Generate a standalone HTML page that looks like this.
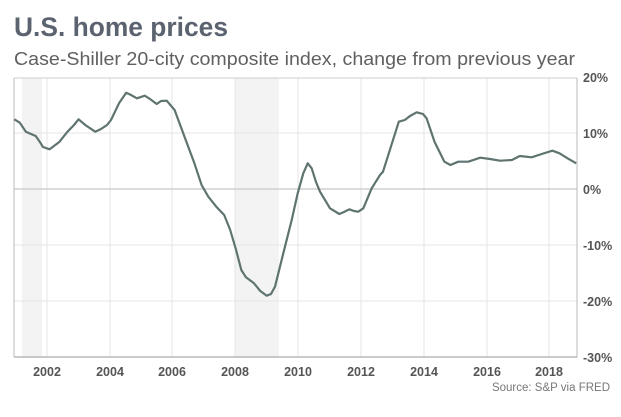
<!DOCTYPE html>
<html><head><meta charset="utf-8"><style>
body{margin:0;background:#fff;width:621px;height:412px;overflow:hidden;font-family:"Liberation Sans",sans-serif}
</style></head><body>
<svg width="621" height="412" xmlns="http://www.w3.org/2000/svg">
<text x="14" y="36" font-size="27" font-weight="bold" fill="#5c6370" textLength="214" lengthAdjust="spacingAndGlyphs">U.S. home prices</text>
<text x="14" y="65" font-size="18" fill="#606060" textLength="561" lengthAdjust="spacingAndGlyphs">Case-Shiller 20-city composite index, change from previous year</text>
<rect x="22" y="78" width="20" height="279" fill="#f3f3f3"/>
<rect x="235" y="78" width="44" height="279" fill="#f3f3f3"/>
<g stroke="#e6e6e6" stroke-width="1">
<line x1="47" y1="78" x2="47" y2="357"/><line x1="110" y1="78" x2="110" y2="357"/><line x1="172" y1="78" x2="172" y2="357"/><line x1="235" y1="78" x2="235" y2="357"/><line x1="298" y1="78" x2="298" y2="357"/><line x1="361" y1="78" x2="361" y2="357"/><line x1="424" y1="78" x2="424" y2="357"/><line x1="487" y1="78" x2="487" y2="357"/><line x1="549" y1="78" x2="549" y2="357"/>
<line x1="14" y1="133" x2="577" y2="133"/><line x1="14" y1="245" x2="577" y2="245"/><line x1="14" y1="301" x2="577" y2="301"/>
</g>
<line x1="14" y1="78" x2="577" y2="78" stroke="#ccc"/>
<line x1="14" y1="189" x2="577" y2="189" stroke="#d0d0d0" stroke-width="1.5"/>
<line x1="14" y1="78" x2="14" y2="357" stroke="#bbb"/>
<line x1="577" y1="78" x2="577" y2="357" stroke="#bbb"/>
<line x1="14" y1="357" x2="577" y2="357" stroke="#aaa" stroke-width="1.2"/>
<polyline fill="none" stroke="#5f7470" stroke-width="2.2" stroke-linejoin="round" points="14.3,119.3 19.8,122.7 25.8,131.7 35.7,136 39.7,141.7 43,147 49.6,149.3 54,146 59.5,141.7 67.5,131.7 74,125 78.6,119.3 85.3,125 95.2,131.7 101,129 107,125 111,120 119,103.3 126.2,92.7 131,95 136.9,98.3 144.8,95.7 150,99 156.7,104 161,101 166.7,100.7 174.6,110 184.5,136.7 194.4,163.3 201.6,185 208.3,196.7 216.3,206.7 224.2,215 230.2,230 236.1,250 241.3,270 246,277.3 254,283.3 260,290.7 266.7,295.7 271,294 275,286.7 283.3,253.3 291.7,220 297.7,193.3 303.3,173.3 307.7,163.3 311.7,168.3 316,182 320,191.7 330,208.3 339.3,214 344,212 349.3,209.3 354,211 358.3,211.7 363.3,208.3 371.7,188.3 380,175 383,171.7 390.9,146.7 398.8,121.7 404.8,120 410,116 416.7,112.3 423,114 426.6,118.3 434.5,141.7 444.4,161.7 450.4,165 458.3,161.7 468.3,161.7 480.2,157.7 490,159 500,160.7 511.9,160 519.8,156 531.7,157.3 541.7,154 552.4,150.7 559.5,153.3 567.5,158.3 576.2,163.3"/>
<g font-size="12.5" font-weight="bold" fill="#555">
<text x="583" y="82">20%</text><text x="583" y="138">10%</text><text x="583" y="194">0%</text>
<text x="583" y="250">-10%</text><text x="583" y="306">-20%</text><text x="583" y="362">-30%</text>
</g>
<g font-size="12.5" font-weight="bold" fill="#555" text-anchor="middle">
<text x="47" y="376">2002</text><text x="110" y="376">2004</text><text x="172" y="376">2006</text><text x="235" y="376">2008</text><text x="298" y="376">2010</text><text x="361" y="376">2012</text><text x="424" y="376">2014</text><text x="487" y="376">2016</text><text x="549" y="376">2018</text>
</g>
<text x="610" y="391" font-size="11.5" fill="#777" text-anchor="end">Source: S&amp;P via FRED</text>
</svg>
</body></html>
